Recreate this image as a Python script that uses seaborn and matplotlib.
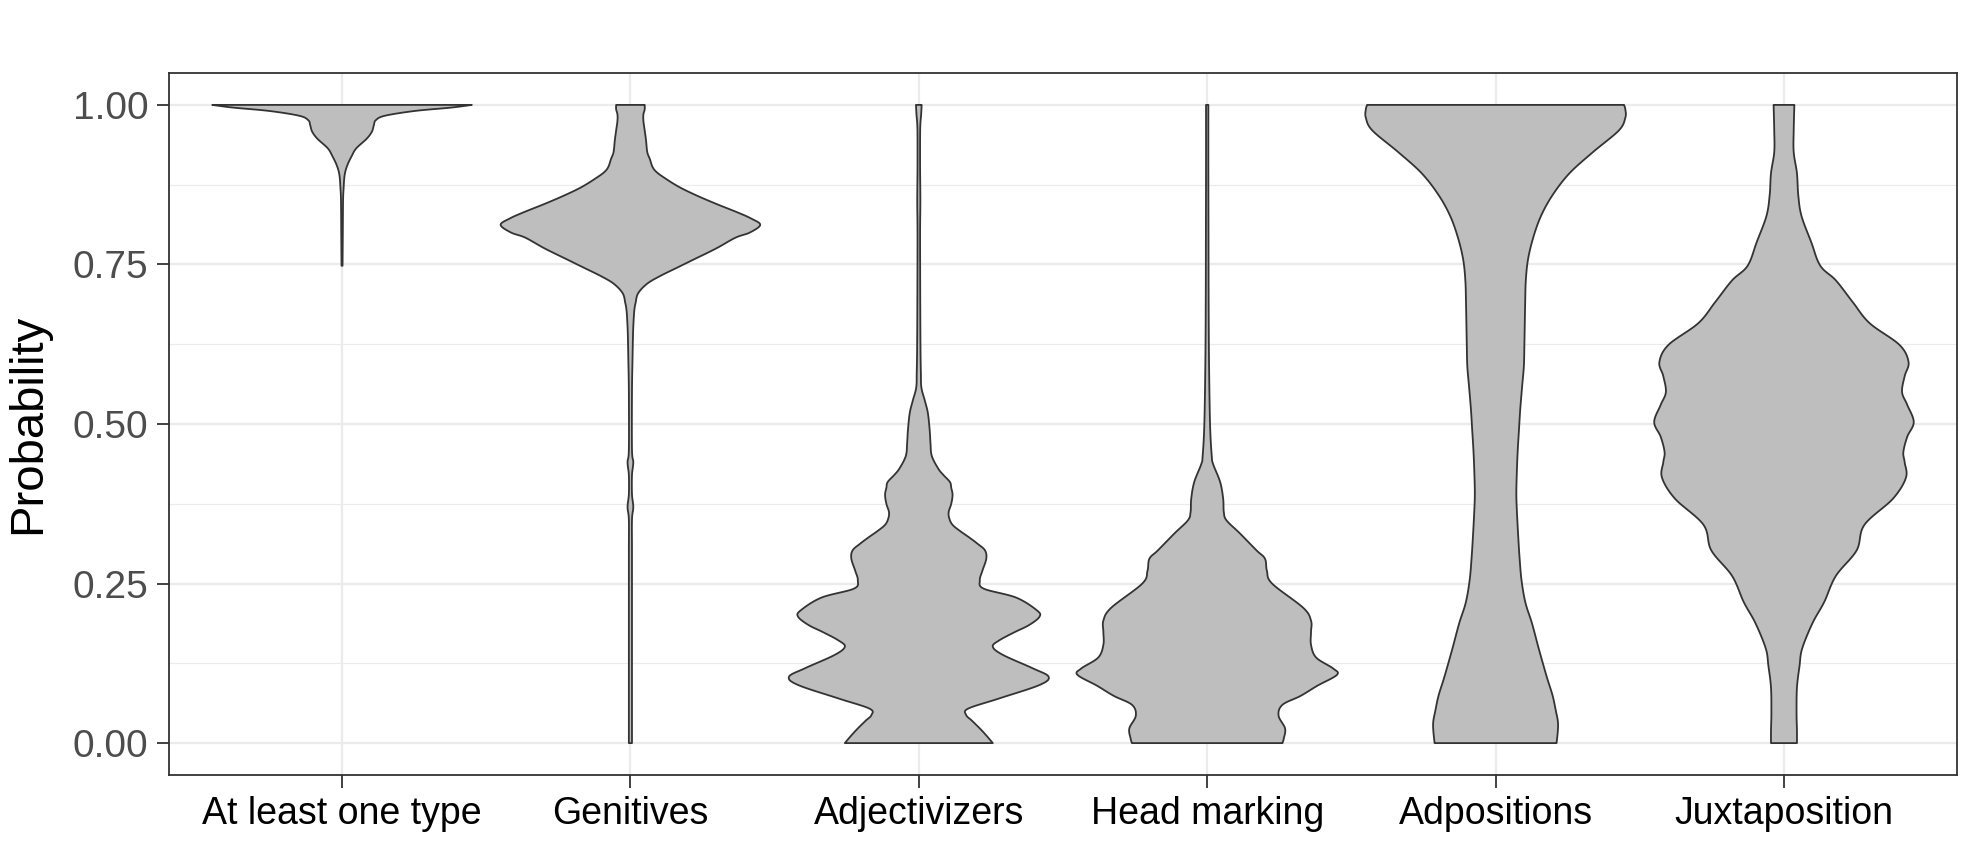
import numpy as np
import pandas as pd
import matplotlib
matplotlib.use("Agg")
import matplotlib.pyplot as plt
from matplotlib.ticker import MultipleLocator
import seaborn as sns

categories = ["At least one type", "Genitives", "Adjectivizers",
              "Head marking", "Adpositions", "Juxtaposition"]

# Violin profiles: probability level and relative half-width (1 = widest)
atleast_y = [0.748, 0.80, 0.85, 0.869, 0.89, 0.905, 0.92, 0.932, 0.947, 0.958,
             0.968, 0.976, 0.983, 0.9905, 0.9958, 1.0]
atleast_w = [0.004, 0.006, 0.008, 0.012, 0.02, 0.04, 0.075, 0.11, 0.19, 0.23,
             0.245, 0.26, 0.33, 0.56, 0.84, 1.0]

genit_y = [0.0, 0.1, 0.2, 0.3, 0.35, 0.37, 0.39, 0.42, 0.44, 0.46, 0.55, 0.6,
           0.64, 0.66, 0.678, 0.69, 0.705, 0.72, 0.732, 0.745, 0.758, 0.775,
           0.792, 0.80, 0.812, 0.822, 0.832, 0.845, 0.859, 0.872, 0.886, 0.895,
           0.903, 0.915, 0.926, 0.945, 0.96, 0.975, 0.985, 0.993, 1.0]
genit_w = [0.012, 0.012, 0.012, 0.012, 0.012, 0.022, 0.012, 0.012, 0.022, 0.012,
           0.012, 0.016, 0.02, 0.024, 0.03, 0.04, 0.06, 0.13, 0.23, 0.36, 0.49,
           0.66, 0.81, 0.92, 1.0, 0.93, 0.82, 0.66, 0.5, 0.37, 0.26, 0.2, 0.17,
           0.15, 0.13, 0.12, 0.11, 0.10, 0.10, 0.11, 0.11]

adj_y = [0.0, 0.012, 0.023, 0.035, 0.044, 0.054, 0.07, 0.091, 0.104, 0.117,
         0.138, 0.151, 0.161, 0.174, 0.185, 0.198, 0.208, 0.228, 0.242, 0.255,
         0.27, 0.289, 0.302, 0.312, 0.322, 0.332, 0.342, 0.352, 0.362, 0.375,
         0.389, 0.40, 0.409, 0.42, 0.43, 0.45, 0.47, 0.49, 0.517, 0.537, 0.557,
         0.58, 0.62, 0.7, 0.8, 0.85, 0.9, 0.95, 0.97, 0.985, 1.0]
adj_w = [0.57, 0.52, 0.47, 0.41, 0.365, 0.38, 0.62, 0.93, 1.0, 0.88, 0.65, 0.57,
         0.62, 0.74, 0.85, 0.93, 0.91, 0.75, 0.50, 0.47, 0.49, 0.52, 0.51, 0.455,
         0.39, 0.32, 0.26, 0.235, 0.23, 0.25, 0.26, 0.25, 0.24, 0.19, 0.15, 0.10,
         0.09, 0.084, 0.07, 0.046, 0.02, 0.016, 0.013, 0.011, 0.01, 0.012, 0.01,
         0.01, 0.012, 0.018, 0.022]

head_y = [0.0, 0.007, 0.023, 0.043, 0.06, 0.074, 0.09, 0.107, 0.117, 0.134,
          0.154, 0.174, 0.192, 0.212, 0.25, 0.27, 0.289, 0.302, 0.329, 0.349,
          0.362, 0.383, 0.409, 0.437, 0.45, 0.5, 0.6, 0.7, 0.8, 0.9, 1.0]
head_w = [0.58, 0.59, 0.6, 0.55, 0.58, 0.72, 0.85, 1.0, 0.97, 0.84, 0.80, 0.80,
          0.80, 0.74, 0.50, 0.46, 0.445, 0.38, 0.25, 0.149, 0.128, 0.123, 0.10,
          0.046, 0.035, 0.022, 0.014, 0.011, 0.01, 0.009, 0.009]

adpos_y = [0.0, 0.02, 0.034, 0.05, 0.074, 0.1, 0.121, 0.15, 0.188, 0.22, 0.255,
           0.29, 0.322, 0.36, 0.389, 0.42, 0.456, 0.49, 0.523, 0.56, 0.591,
           0.625, 0.658, 0.69, 0.725, 0.758, 0.792, 0.826, 0.859, 0.893, 0.926,
           0.96, 0.98, 0.993, 1.0]
adpos_w = [0.47, 0.48, 0.48, 0.465, 0.44, 0.40, 0.37, 0.33, 0.28, 0.23, 0.2,
           0.185, 0.175, 0.165, 0.16, 0.163, 0.17, 0.18, 0.19, 0.205, 0.218,
           0.222, 0.225, 0.228, 0.233, 0.25, 0.29, 0.35, 0.44, 0.57, 0.75,
           0.95, 1.0, 1.0, 0.99]

juxta_y = [0.0, 0.02, 0.047, 0.087, 0.121, 0.148, 0.188, 0.221, 0.262, 0.302,
           0.342, 0.383, 0.416, 0.44, 0.456, 0.48, 0.503, 0.53, 0.55, 0.575,
           0.597, 0.624, 0.658, 0.691, 0.725, 0.748, 0.785, 0.826, 0.859, 0.893,
           0.926, 0.96, 1.0]
juxta_w = [0.10, 0.10, 0.097, 0.10, 0.12, 0.14, 0.22, 0.31, 0.40, 0.56, 0.62,
           0.84, 0.94, 0.93, 0.92, 0.95, 1.0, 0.95, 0.91, 0.93, 0.96, 0.89, 0.66,
           0.53, 0.40, 0.28, 0.21, 0.135, 0.11, 0.1, 0.075, 0.075, 0.08]

profiles = {
    "At least one type": (atleast_y, atleast_w),
    "Genitives": (genit_y, genit_w),
    "Adjectivizers": (adj_y, adj_w),
    "Head marking": (head_y, head_w),
    "Adpositions": (adpos_y, adpos_w),
    "Juxtaposition": (juxta_y, juxta_w),
}

rows = []
for cat in categories:
    ys, ws = profiles[cat]
    for yv, wv in zip(ys, ws):
        rows.append({"type": cat, "prob": yv, "width": wv})
df = pd.DataFrame(rows)


def smooth_outline(ys, ws, n=16):
    """Catmull-Rom curve through the read points (rendering only)."""
    p = np.column_stack([ys, ws])
    p = np.vstack([p[0], p, p[-1]])
    out = []
    t = np.linspace(0, 1, n, endpoint=False)[:, None]
    for k in range(1, len(p) - 2):
        p0, p1, p2, p3 = p[k - 1], p[k], p[k + 1], p[k + 2]
        seg = 0.5 * (2 * p1 + (-p0 + p2) * t + (2 * p0 - 5 * p1 + 4 * p2 - p3) * t ** 2
                     + (-p0 + 3 * p1 - 3 * p2 + p3) * t ** 3)
        out.append(seg)
    out.append(p[-2][None, :])
    out = np.vstack(out)
    out[:, 0] = np.clip(out[:, 0], ys[0], ys[-1])
    out[:, 1] = np.clip(out[:, 1], 0.004, None)
    return out[:, 0], out[:, 1]


sns.set_theme(style="whitegrid")
plt.rcParams["font.family"] = ["Liberation Sans", "DejaVu Sans"]

fig = plt.figure(figsize=(19.8, 8.43), dpi=100)
ax = fig.add_axes([169 / 1980, 1 - 775 / 843, (1957 - 169) / 1980, (775 - 73) / 843])
ax.set_facecolor("white")

half = 0.45
for i, cat in enumerate(categories):
    sub = df[df["type"] == cat].sort_values("prob")
    yy, ww = smooth_outline(sub["prob"].to_numpy(), sub["width"].to_numpy())
    xs = np.concatenate([i - half * ww, (i + half * ww)[::-1]])
    ysl = np.concatenate([yy, yy[::-1]])
    ax.fill(xs, ysl, facecolor="#BEBEBE", edgecolor="#333333", linewidth=1.3,
            joinstyle="round", zorder=3)

ax.set_xlim(-0.6, len(categories) - 0.4)
ax.set_ylim(-0.05, 1.05)
ax.set_xticks(range(len(categories)))
ax.set_xticklabels(categories)
ax.set_yticks([0, 0.25, 0.5, 0.75, 1.0])
ax.set_yticklabels(["0.00", "0.25", "0.50", "0.75", "1.00"])
ax.yaxis.set_minor_locator(MultipleLocator(0.125))

ax.grid(which="major", color="#EBEBEB", linewidth=1.6, zorder=0)
ax.grid(which="minor", axis="y", color="#EBEBEB", linewidth=0.8, zorder=0)
ax.set_axisbelow(True)

for sp in ax.spines.values():
    sp.set_visible(True)
    sp.set_color("#333333")
    sp.set_linewidth(1.3)

ax.tick_params(axis="both", which="major", length=9, width=1.3, color="#333333",
               pad=6, bottom=True, left=True)
ax.tick_params(axis="y", which="minor", length=0)
ax.tick_params(axis="y", labelsize=28, labelcolor="#4D4D4D")
ax.tick_params(axis="x", labelsize=27, labelcolor="black")

ax.set_xlabel("")
ax.set_ylabel("Probability", fontsize=34, color="black", labelpad=16)

fig.savefig("out.png", dpi=100, facecolor="white")
